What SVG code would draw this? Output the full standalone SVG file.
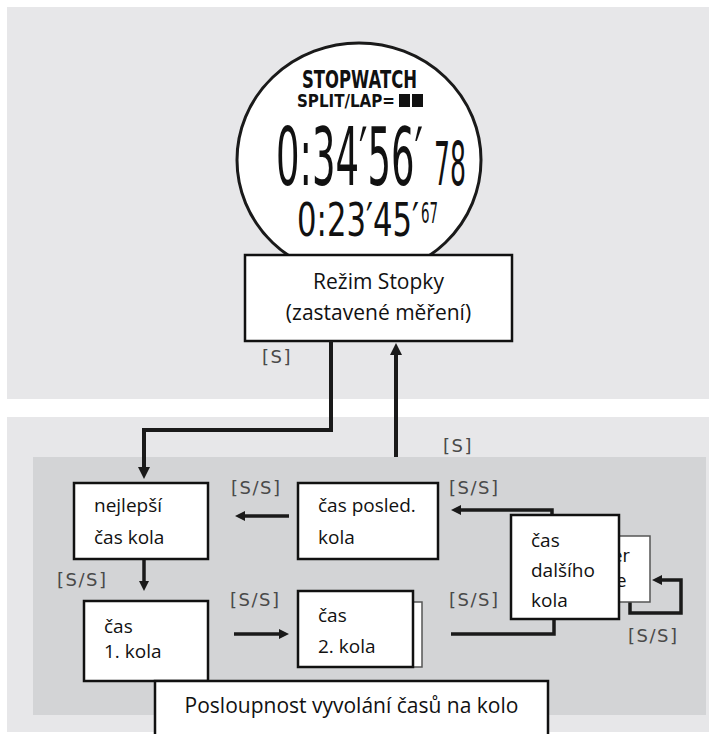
<svg xmlns="http://www.w3.org/2000/svg" width="709" height="734" viewBox="0 0 709 734">
<style>
.panel{fill:#e7e7e9}
.inner{fill:#d3d4d6}
.box{fill:#fff;stroke:#111;stroke-width:2.5}
.back{fill:#fff;stroke:#555;stroke-width:1.5}
.t{font-family:"Open Sans","Noto Sans",sans-serif;font-size:19px;fill:#111}
.title{font-family:"Open Sans","Noto Sans",sans-serif;font-size:21px;fill:#111}
.lbl{font-family:"DejaVu Sans",sans-serif;font-size:18px;fill:#4a4a4a;letter-spacing:1.5px}
.lcd{font-family:"DejaVu Sans",sans-serif;fill:#111}
.conn{fill:none;stroke:#1a1a1a;stroke-width:4;stroke-linejoin:miter}
.conn3{fill:none;stroke:#1a1a1a;stroke-width:3.5}
</style>
<defs>
<marker id="ah" viewBox="0 0 12 12" refX="4" refY="6" markerWidth="12" markerHeight="12" markerUnits="userSpaceOnUse" orient="auto">
<path d="M0,0 L12,6 L0,12 z" fill="#1a1a1a"/>
</marker>
<marker id="ahs" viewBox="0 0 10 10" refX="3" refY="5" markerWidth="10" markerHeight="10" markerUnits="userSpaceOnUse" orient="auto">
<path d="M0,0 L10,5 L0,10 z" fill="#1a1a1a"/>
</marker>
</defs>

<rect class="panel" x="7" y="7" width="702" height="392"/>
<rect class="panel" x="7" y="417" width="702" height="315"/>
<rect class="inner" x="33" y="457" width="673" height="258"/>

<g id="watch">
<ellipse cx="359" cy="160" rx="122" ry="117" fill="#fff" stroke="#1a1a1a" stroke-width="3"/>
<text class="lcd" x="302" y="88" font-size="25" font-weight="bold" textLength="115" lengthAdjust="spacingAndGlyphs">STOPWATCH</text>
<text class="lcd" x="297" y="107" font-size="18" font-weight="bold" textLength="98" lengthAdjust="spacingAndGlyphs">SPLIT/LAP=</text>
<rect x="399" y="94" width="11" height="13" fill="#111"/>
<rect x="412" y="94" width="11" height="13" fill="#111"/>
<text class="lcd" transform="translate(276,185) scale(0.5,1)" x="0" y="0" font-size="80" textLength="294" lengthAdjust="spacingAndGlyphs">0:34′56′</text>
<text class="lcd" transform="translate(434,185) scale(0.5,1)" x="0" y="0" font-size="60" textLength="64" lengthAdjust="spacingAndGlyphs">78</text>
<text class="lcd" transform="translate(297,236) scale(0.5,1)" x="0" y="0" font-size="46" textLength="244" lengthAdjust="spacingAndGlyphs">0:23′45′</text>
<text class="lcd" transform="translate(421,223) scale(0.5,1)" x="0" y="0" font-size="28" textLength="34" lengthAdjust="spacingAndGlyphs">67</text>
</g>

<g id="rezim">
<rect class="box" x="245" y="255" width="267" height="86"/>
<text class="title" x="378.5" y="289" text-anchor="middle" font-size="22">Režim Stopky</text>
<text class="title" x="378.5" y="320" text-anchor="middle" font-size="22">(zastavené měření)</text>
</g>

<g id="connectors">
<path class="conn" d="M331,341 V430 H144 V471" marker-end="url(#ah)"/>
<path class="conn" d="M396,457 V351" marker-end="url(#ah)"/>
<path class="conn3" d="M289,516 H242" marker-end="url(#ahs)"/>
<path class="conn3" d="M552,515 V510 H458" marker-end="url(#ahs)"/>
<path class="conn3" d="M144,559 V584" marker-end="url(#ahs)"/>
<path class="conn3" d="M234,634 H282" marker-end="url(#ahs)"/>
<path class="conn3" d="M451,634 H554 V619"/>
<path class="conn3" d="M630,602 V613 H681 V580 H659" marker-end="url(#ahs)"/>
</g>

<g id="labels">
<text class="lbl" x="262" y="363">[S]</text>
<text class="lbl" x="443" y="452">[S]</text>
<text class="lbl" x="231" y="494">[S/S]</text>
<text class="lbl" x="449" y="494">[S/S]</text>
<text class="lbl" x="57" y="586">[S/S]</text>
<text class="lbl" x="230" y="606">[S/S]</text>
<text class="lbl" x="449" y="606">[S/S]</text>
<text class="lbl" x="628" y="642">[S/S]</text>
</g>

<g id="nejlepsi">
<rect class="box" x="74" y="483" width="134" height="76"/>
<text class="t" x="94" y="512">nejlepší</text>
<text class="t" x="94" y="544">čas kola</text>
</g>

<g id="posled">
<rect class="box" x="298" y="483" width="140" height="76"/>
<text class="t" x="318" y="512">čas posled.</text>
<text class="t" x="318" y="544">kola</text>
</g>

<g id="dalsi-back">
<rect class="back" x="540" y="536" width="110" height="66"/>
<text class="lcd" x="612" y="562" font-size="17" fill="#333">er</text>
<text class="lcd" x="616" y="587" font-size="17" fill="#333">e</text>
</g>

<g id="dalsi">
<rect class="box" x="511" y="515" width="108" height="104"/>
<text class="t" x="531" y="547">čas</text>
<text class="t" x="531" y="577">dalšího</text>
<text class="t" x="531" y="607">kola</text>
</g>

<g id="kolo1">
<rect class="box" x="84" y="601" width="124" height="80"/>
<text class="t" x="104" y="633">čas</text>
<text class="t" x="104" y="658">1. kola</text>
</g>

<g id="kolo2-back">
<rect class="back" x="307" y="602" width="115" height="65"/>
</g>

<g id="kolo2">
<rect class="box" x="298" y="591" width="115" height="76"/>
<text class="t" x="318" y="622">čas</text>
<text class="t" x="318" y="653">2. kola</text>
</g>

<g id="posloupnost">
<rect class="box" x="155" y="681" width="393" height="60"/>
<text class="title" x="351.5" y="713" text-anchor="middle">Posloupnost vyvolání časů na kolo</text>
</g>
</svg>
